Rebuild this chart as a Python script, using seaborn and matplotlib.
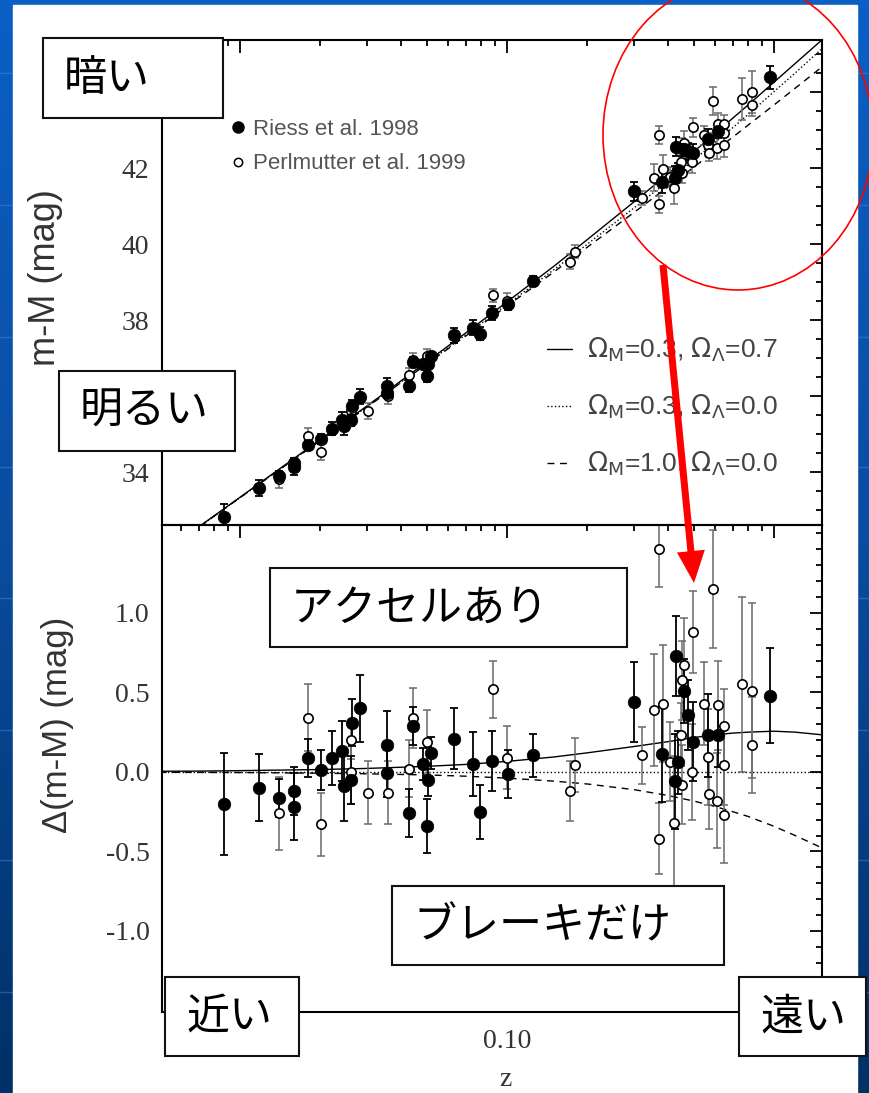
import numpy as np
import seaborn as sns
import matplotlib.pyplot as plt
from matplotlib.colors import LinearSegmentedColormap
from matplotlib.lines import Line2D
from matplotlib.patches import Rectangle, Ellipse
from matplotlib.ticker import FixedLocator, FixedFormatter, LogLocator, NullFormatter, MultipleLocator

# model curves
z_model = [0.005, 0.007, 0.01, 0.02, 0.03, 0.05, 0.07, 0.1, 0.15, 0.2, 0.3, 0.4,
           0.5, 0.6, 0.7, 0.8, 1.0, 1.2, 1.5]
mu_lambda = [31.82, 32.56, 33.34, 34.86, 35.75, 36.90, 37.66, 38.48, 39.42, 40.12,
             41.12, 41.84, 42.43, 42.90, 43.31, 43.66, 44.26, 44.75, 45.35]
mu_open = [31.82, 32.55, 33.33, 34.84, 35.73, 36.86, 37.61, 38.41, 39.33, 40.00,
           40.96, 41.65, 42.21, 42.67, 43.06, 43.41, 44.01, 44.50, 45.12]
mu_eds = [31.82, 32.55, 33.33, 34.83, 35.72, 36.84, 37.58, 38.37, 39.27, 39.92,
          40.84, 41.50, 42.02, 42.45, 42.81, 43.13, 43.66, 44.10, 44.64]
d_lambda = [0.004, 0.005, 0.008, 0.015, 0.022, 0.035, 0.047, 0.066, 0.094, 0.12,
            0.16, 0.19, 0.216, 0.233, 0.244, 0.25, 0.256, 0.25, 0.234]
d_open = [0.0, 0.0, 0.0, 0.0, 0.0, 0.0, 0.0, 0.0, 0.0, 0.0,
          0.0, 0.0, 0.0, 0.0, 0.0, 0.0, 0.0, 0.0, 0.0]
d_eds = [-0.002, -0.003, -0.004, -0.008, -0.012, -0.019, -0.027, -0.039, -0.058, -0.076,
         -0.112, -0.148, -0.183, -0.217, -0.25, -0.28, -0.342, -0.40, -0.475]

# Riess et al. 1998 (filled)
riess_z = [0.00873, 0.01178, 0.01403, 0.01597, 0.01597, 0.01803, 0.02011, 0.02206, 0.02404,
           0.02459, 0.0262, 0.02813, 0.0261, 0.03542, 0.0355, 0.04458, 0.04305, 0.05178,
           0.04859, 0.05073, 0.05029, 0.06347, 0.07438, 0.07921, 0.08764, 0.1011, 0.1248,
           0.2998, 0.966, 0.4297, 0.46, 0.475, 0.5674, 0.6185, 0.4986, 0.3796, 0.438, 0.4258]
riess_mu = [32.83, 33.59, 33.90, 34.23, 34.13, 34.71, 34.87, 35.14, 35.38,
            35.21, 35.75, 35.99, 35.37, 36.27, 36.09, 36.90, 36.27, 37.06,
            36.85, 36.84, 36.53, 37.60, 37.80, 37.64, 38.18, 38.42, 39.02,
            41.39, 44.39, 42.56, 42.51, 42.44, 42.76, 42.98, 42.39, 41.64, 41.94, 41.75]
riess_dmu = [-0.20, -0.10, -0.165, -0.12, -0.22, 0.09, 0.01, 0.085, 0.13,
             -0.09, 0.31, 0.40, -0.05, 0.17, -0.01, 0.29, -0.26, 0.12,
             0.05, -0.05, -0.34, 0.21, 0.05, -0.25, 0.07, -0.015, 0.105,
             0.44, 0.48, 0.73, 0.51, 0.36, 0.23, 0.23, 0.19, 0.11, 0.06, -0.06]
riess_err = [0.32, 0.21, 0.12, 0.15, 0.21, 0.12, 0.125, 0.17, 0.19,
             0.22, 0.15, 0.21, 0.15, 0.21, 0.15, 0.12, 0.15, 0.10,
             0.10, 0.10, 0.17, 0.19, 0.20, 0.17, 0.19, 0.15, 0.135,
             0.25, 0.30, 0.25, 0.20, 0.22, 0.26, 0.20, 0.25, 0.30, 0.20, 0.30]

# Perlmutter et al. 1999 (open)
perl_z = [0.01403, 0.01803, 0.02011, 0.0261, 0.0261, 0.03008, 0.03591, 0.04458, 0.04305,
          0.05003, 0.0884, 0.1003, 0.1798, 0.1722, 0.3718, 0.589, 0.496, 0.757, 0.825,
          0.825, 0.46, 0.451, 0.3553, 0.3829, 0.5468, 0.6185, 0.6497, 0.4473, 0.3195,
          0.4078, 0.451, 0.4917, 0.5674, 0.6497, 0.5725, 0.6132, 0.6497, 0.371, 0.4221]
perl_mu = [33.81, 34.96, 34.53, 35.62, 35.42, 35.61, 36.00, 36.95, 36.55,
           37.05, 38.65, 38.51, 39.80, 39.54, 42.88, 43.77, 43.07, 43.82, 44.00,
           43.66, 42.67, 42.53, 41.75, 41.98, 42.86, 43.17, 43.16, 42.16, 41.21,
           41.77, 41.87, 42.17, 42.62, 42.92, 42.41, 42.54, 42.60, 41.05, 41.47]
perl_dmu = [-0.26, 0.34, -0.33, 0.20, 0.00, -0.13, -0.13, 0.34, 0.02,
            0.19, 0.52, 0.09, 0.045, -0.12, 1.40, 1.15, 0.88, 0.55, 0.51,
            0.17, 0.67, 0.575, 0.39, 0.43, 0.43, 0.42, 0.29, 0.235, 0.105,
            0.065, -0.08, 0.00, 0.095, 0.045, -0.14, -0.18, -0.27, -0.42, -0.32]
perl_err = [0.23, 0.21, 0.20, 0.12, 0.20, 0.20, 0.20, 0.19, 0.18,
            0.20, 0.18, 0.20, 0.17, 0.19, 0.24, 0.37, 0.26, 0.55, 0.55,
            0.30, 0.30, 0.25, 0.35, 0.37, 0.26, 0.28, 0.23, 0.20, 0.18,
            0.25, 0.25, 0.30, 0.30, 0.25, 0.22, 0.30, 0.30, 0.225, 0.42]

model_labels = [r'$\Omega_\mathrm{M}$=0.3, $\Omega_\Lambda$=0.7',
                r'$\Omega_\mathrm{M}$=0.3, $\Omega_\Lambda$=0.0',
                r'$\Omega_\mathrm{M}$=1.0, $\Omega_\Lambda$=0.0']
model_styles = ['-', ':', (0, (5, 4))]

# tick labels (the others are hidden under the slide boxes)
top_yticks = [34, 36, 38, 40, 42, 44]
top_ylabels = ['34', '', '38', '40', '42', '']
bot_yticks = [-1.0, -0.5, 0.0, 0.5, 1.0]
bot_ylabels = ['-1.0', '-0.5', '0.0', '0.5', '1.0']
xticks = [0.01, 0.1, 1.0]
xlabels = ['', '0.10', '']

# slide overlays: (x0, y0, x1, y1, text) in pixels
boxes = [(43, 38, 223, 118, '暗い'),
         (59, 371, 235, 451, '明るい'),
         (270, 568, 627, 647, 'アクセルあり'),
         (392, 886, 724, 965, 'ブレーキだけ'),
         (165, 977, 299, 1056, '近い'),
         (739, 977, 866, 1056, '遠い')]

sns.set_theme(style='white')
plt.rcParams['font.family'] = ['Liberation Serif', 'DejaVu Sans']
plt.rcParams['axes.unicode_minus'] = False
plt.rcParams['mathtext.fontset'] = 'dejavusans'
JP = ['Noto Sans CJK JP', 'DejaVu Sans']
SANS = ['Liberation Sans', 'DejaVu Sans']

W, H = 870, 1093
fig = plt.figure(figsize=(8.7, 10.93), dpi=100)

# slide background
bg = fig.add_axes([0, 0, 1, 1], zorder=-5)
bg.set_xlim(0, W)
bg.set_ylim(H, 0)
bg.axis('off')
slide = LinearSegmentedColormap.from_list('slide', ['#0b60c6', '#0a4c9f', '#003066'])
bg.imshow(np.linspace(0, 1, 256).reshape(-1, 1), cmap=slide, extent=[0, W, H, 0], aspect='auto')
for yb in [73, 205, 337, 467, 598, 730, 860, 992]:
    bg.axhline(yb, color='#4a8ad6', lw=1.0, alpha=0.45, zorder=2)
bg.add_patch(Rectangle((13, 5), 844, H, color='white', zorder=5))

ax_top = fig.add_axes([0.1862, 0.5197, 0.7586, 0.4437], facecolor='none')
ax_bot = fig.add_axes([0.1862, 0.0741, 0.7586, 0.4456], facecolor='none')


def draw(ax, mu_curves, riess_y, perl_y):
    for ys, ls in zip(mu_curves, model_styles):
        sns.lineplot(x=z_model, y=ys, ax=ax, color='black', lw=1.0, linestyle=ls,
                     estimator=None, sort=False, zorder=1)
    ax.errorbar(perl_z, perl_y, yerr=perl_err, fmt='none', ecolor='#6a6a6a',
                elinewidth=1.1, capsize=3, capthick=1.1, zorder=2)
    ax.errorbar(riess_z, riess_y, yerr=riess_err, fmt='none', ecolor='black',
                elinewidth=1.3, capsize=3, capthick=1.3, zorder=2)
    sns.scatterplot(x=perl_z, y=perl_y, ax=ax, color='white', edgecolor='black',
                    s=45, linewidth=1.2, zorder=3, legend=False)
    sns.scatterplot(x=riess_z, y=riess_y, ax=ax, color='black', edgecolor='black',
                    s=82, linewidth=0.5, zorder=4, legend=False)


draw(ax_top, [mu_lambda, mu_open, mu_eds], riess_mu, perl_mu)
draw(ax_bot, [d_lambda, d_open, d_eds], riess_dmu, perl_dmu)

for ax in (ax_top, ax_bot):
    ax.set_xscale('log')
    ax.set_xlim(0.0051, 1.513)
    ax.xaxis.set_major_locator(FixedLocator(xticks))
    ax.xaxis.set_major_formatter(FixedFormatter(xlabels))
    ax.xaxis.set_minor_locator(LogLocator(base=10, subs=np.arange(2, 10), numticks=20))
    ax.xaxis.set_minor_formatter(NullFormatter())
    ax.tick_params(which='both', direction='in', top=True, right=True, width=1.3,
                   color='black', labelcolor='#333333', labelsize=20, pad=9)
    ax.tick_params(which='major', length=9)
    ax.tick_params(which='minor', length=4.5)
    for sp in ax.spines.values():
        sp.set_linewidth(1.5)
        sp.set_color('black')
    ax.set_xlabel('')
    ax.set_ylabel('')

ax_top.tick_params(labelbottom=False)
ax_top.set_ylim(32.61, 45.37)
ax_top.yaxis.set_major_locator(FixedLocator(top_yticks))
ax_top.yaxis.set_major_formatter(FixedFormatter(top_ylabels))
ax_top.yaxis.set_minor_locator(MultipleLocator(0.5))

ax_bot.set_ylim(-1.51, 1.553)
ax_bot.yaxis.set_major_locator(FixedLocator(bot_yticks))
ax_bot.yaxis.set_major_formatter(FixedFormatter(bot_ylabels))
ax_bot.yaxis.set_minor_locator(MultipleLocator(0.1))
ax_bot.tick_params(axis='x', pad=12)

ax_top.text(-0.176, 0.51, 'm-M (mag)', transform=ax_top.transAxes, rotation=90,
            ha='center', va='center', fontsize=26, color='#333333', family=SANS)
ax_bot.text(-0.159, 0.589, 'Δ(m-M) (mag)', transform=ax_bot.transAxes, rotation=90,
            ha='center', va='center', fontsize=25, color='#333333', family=SANS)
ax_bot.text(0.52, -0.113, 'z', transform=ax_bot.transAxes, ha='center', va='top',
            fontsize=20, color='#333333')

# legends
data_handles = [Line2D([], [], ls='none', marker='o', ms=8, mfc='black', mec='black'),
                Line2D([], [], ls='none', marker='o', ms=6, mfc='white', mec='black', mew=1.1)]
leg1 = ax_top.legend(data_handles, ['Riess et al. 1998', 'Perlmutter et al. 1999'],
                     loc='upper left', bbox_to_anchor=(0.1045, 0.837), frameon=False,
                     borderpad=0, borderaxespad=0, handlelength=0.64, handletextpad=0.36,
                     labelspacing=0.6, prop={'family': SANS, 'size': 16}, labelcolor='#555555')
ax_top.add_artist(leg1)
model_handles = [Line2D([], [], color='black', lw=1.0, ls=ls) for ls in model_styles]
ax_top.legend(model_handles, model_labels, loc='upper left', bbox_to_anchor=(0.583, 0.390),
              frameon=False, borderpad=0, borderaxespad=0, handlelength=0.96,
              handletextpad=0.58, labelspacing=1.08, prop={'family': SANS, 'size': 19},
              labelcolor='#444444')

# slide overlay: boxes, ellipse, arrow
ov = fig.add_axes([0, 0, 1, 1], zorder=10)
ov.set_xlim(0, W)
ov.set_ylim(H, 0)
ov.axis('off')
for x0, y0, x1, y1, txt in boxes:
    ov.add_patch(Rectangle((x0, y0), x1 - x0, y1 - y0, fc='white', ec='#111111', lw=1.5))
    ov.text(x0 + 21, (y0 + y1) / 2 + 1, txt, fontsize=31, ha='left', va='center',
            color='black', family=JP)
ov.add_patch(Ellipse((738, 135), 270, 310, fill=False, ec='red', lw=1.2))
ov.arrow(663, 265, 31, 318, width=7, head_width=28, head_length=32,
         length_includes_head=True, color='red', lw=0)

fig.savefig('out.png', dpi=100)
